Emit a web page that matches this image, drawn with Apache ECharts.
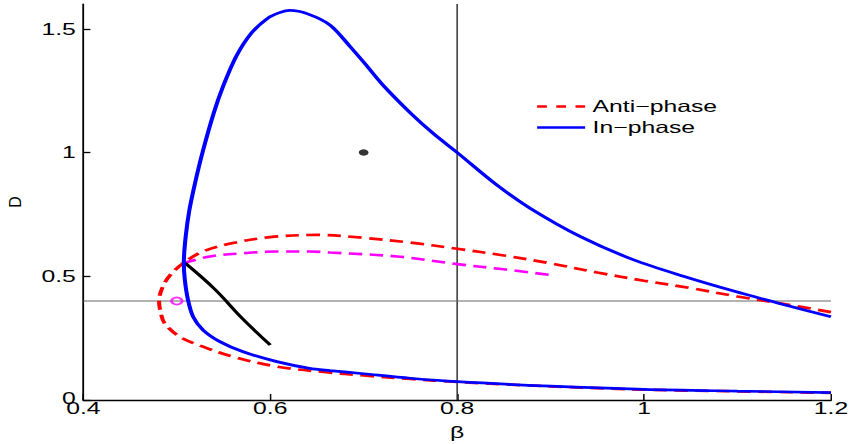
<!DOCTYPE html>
<html>
<head>
<meta charset="utf-8">
<script src="https://cdn.jsdelivr.net/npm/echarts@6/dist/echarts.min.js"></script>
<style>
html,body{margin:0;padding:0;background:#fff;overflow:hidden;width:850px;height:444px}
#c{width:567px;height:444px;transform:scaleX(1.4991);transform-origin:0 0}
</style>
</head>
<body>
<div id="c"></div>
<script>
// In-phase (blue solid): from lower-right, around the left turn, over the peak, down to the right
const inPhaseBeta = [1.2, 1.1, 1.0, 0.9, 0.8, 0.75, 0.7, 0.664, 0.642, 0.607, 0.571, 0.546, 0.528, 0.5174, 0.512, 0.5086, 0.5075, 0.5095, 0.5135, 0.5195, 0.5275, 0.5395, 0.5495, 0.5635, 0.58, 0.5975, 0.61, 0.621, 0.64, 0.664, 0.685, 0.70, 0.72, 0.75, 0.775, 0.8, 0.842, 0.878, 0.932, 0.989, 1.043, 1.096, 1.15, 1.2];
const inPhaseD    = [0.030, 0.036, 0.043, 0.056, 0.074, 0.088, 0.106, 0.119, 0.128, 0.155, 0.195, 0.236, 0.283, 0.337, 0.404, 0.485, 0.553, 0.660, 0.768, 0.876, 1.0, 1.159, 1.267, 1.388, 1.483, 1.543, 1.565, 1.574, 1.56, 1.515, 1.43, 1.365, 1.275, 1.16, 1.075, 1.0, 0.87, 0.775, 0.66, 0.566, 0.499, 0.44, 0.385, 0.336];

// Anti-phase (red dashed)
const antiPhaseBeta = [1.2, 1.15, 1.1, 1.05, 1.0, 0.95, 0.9, 0.85, 0.8, 0.75, 0.7, 0.65, 0.6, 0.56, 0.528, 0.507, 0.493, 0.485, 0.481, 0.483, 0.487, 0.503, 0.528, 0.56, 0.607, 0.66, 0.7, 0.75, 0.8, 0.9, 1.0, 1.1, 1.2];
const antiPhaseD    = [0.355, 0.388, 0.418, 0.452, 0.482, 0.515, 0.552, 0.584, 0.611, 0.636, 0.655, 0.667, 0.658, 0.634, 0.600, 0.553, 0.505, 0.458, 0.400, 0.350, 0.310, 0.256, 0.2155, 0.175, 0.135, 0.112, 0.099, 0.085, 0.073, 0.055, 0.042, 0.035, 0.029];

// Magenta dashed branch
const magentaBeta = [0.507, 0.5355, 0.571, 0.607, 0.6425, 0.664, 0.7356, 0.8, 0.85, 0.9];
const magentaD    = [0.553, 0.580, 0.593, 0.600, 0.600, 0.596, 0.580, 0.549, 0.528, 0.505];

// Black solid branch
const blackBeta = [0.509, 0.54, 0.57, 0.6];
const blackD    = [0.553, 0.450, 0.330, 0.222];

// Markers
const circlePoint = [0.5, 0.4];
const dotPoint = [0.7, 1.0];

// Reference lines
const vLineBeta = [0.8, 0.8];
const vLineD = [0, 1.6];
const hLineBeta = [0.4, 1.2];
const hLineD = [0.4, 0.4];

// Ticks
const xTicks = [0.4, 0.6, 0.8, 1.0, 1.2];
const yTicks = [0, 0.5, 1, 1.5];

const zip = (a, b) => a.map((v, i) => [v, b[i]]);
const FONT = 'Liberation Sans, Arial, Helvetica, sans-serif';

const chart = echarts.init(document.getElementById('c'), null, {renderer: 'svg'});
chart.setOption({
  animation: false,
  backgroundColor: '#fff',
  grid: {left: 55.6, right: 12.7, top: 4, bottom: 44, containLabel: false, outerBoundsMode: 'none'},
  legend: {
    orient: 'vertical', left: 357, top: 98, padding: 0,
    itemWidth: 32, itemHeight: 14, itemGap: 4,
    itemStyle: {opacity: 0},
    lineStyle: {width: 2.6},
    textStyle: {fontFamily: FONT, fontSize: 16.5, color: '#000'},
    data: [
      {name: 'Anti\u2212phase', lineStyle: {type: [6.5, 6.3]}},
      {name: 'In\u2212phase'}
    ]
  },
  graphic: [{
    type: 'text', x: 10.7, y: 202, rotation: Math.PI / 2, scaleY: 0.65,
    style: {text: 'D', fontFamily: FONT, fontSize: 16, fill: '#000', align: 'center', verticalAlign: 'middle'}
  }],
  xAxis: {
    type: 'value', min: 0.4, max: 1.2, interval: 0.2,
    name: '\u03b2', nameLocation: 'middle', nameGap: 24,
    nameTextStyle: {fontFamily: FONT, fontSize: 16.5, color: '#000'},
    axisLine: {show: true, onZero: false, lineStyle: {color: '#000', width: 1.3}},
    axisTick: {show: true, inside: true, length: 6, lineStyle: {color: '#000', width: 1}, customValues: xTicks},
    axisLabel: {fontFamily: FONT, fontSize: 16.5, lineHeight: 12, color: '#000', margin: 2, customValues: xTicks,
      formatter: v => String(Math.round(v * 10) / 10)},
    splitLine: {show: false}
  },
  yAxis: {
    type: 'value', min: 0, max: 1.6,
    axisLine: {show: true, onZero: false, lineStyle: {color: '#000', width: 1.2}},
    axisTick: {show: true, inside: true, length: 4.7, lineStyle: {color: '#000', width: 1.3}, customValues: yTicks},
    axisLabel: {fontFamily: FONT, fontSize: 16.5, lineHeight: 12, color: '#000', margin: 5, customValues: yTicks,
      formatter: v => v === 0 ? '{z|0}' : String(v),
      rich: {z: {fontFamily: FONT, fontSize: 16.5, lineHeight: 12, color: '#000', padding: [0, 0, 4, 0]}}},
    splitLine: {show: false}
  },
  series: [
    {type: 'line', name: 'vref', data: zip(vLineBeta, vLineD), symbol: 'none', silent: true,
      lineStyle: {color: '#333', width: 1}, z: 1},
    {type: 'line', name: 'href', data: zip(hLineBeta, hLineD), symbol: 'none', silent: true,
      lineStyle: {color: '#666', width: 1.2}, z: 1},
    {type: 'line', name: 'Anti\u2212phase', data: zip(antiPhaseBeta, antiPhaseD), symbol: 'none', smooth: 0.35,
      lineStyle: {color: '#ff0000', width: 2.7, type: [9, 5]}, itemStyle: {color: '#ff0000'}, z: 2},
    {type: 'line', name: 'magenta', data: zip(magentaBeta, magentaD), symbol: 'none', smooth: 0.35,
      lineStyle: {color: '#ff00ff', width: 2.6, type: [9, 5]}, itemStyle: {color: '#ff00ff'}, z: 2},
    {type: 'line', name: 'black', data: zip(blackBeta, blackD), symbol: 'none', smooth: 0.4,
      lineStyle: {color: '#000', width: 2.5}, z: 3},
    {type: 'line', name: 'In\u2212phase', data: zip(inPhaseBeta, inPhaseD), symbol: 'none', smooth: 0.3,
      lineStyle: {color: '#0000ff', width: 2.7}, itemStyle: {color: '#0000ff'}, z: 4},
    {type: 'scatter', name: 'circle', data: [circlePoint], symbol: 'circle', symbolSize: 7,
      itemStyle: {color: 'rgba(255,255,255,0)', borderColor: '#ff00ff', borderWidth: 1.8}, z: 5},
    {type: 'scatter', name: 'dot', data: [dotPoint], symbol: 'circle', symbolSize: 6.5,
      itemStyle: {color: '#000'}, z: 5}
  ]
});
</script>
</body>
</html>
